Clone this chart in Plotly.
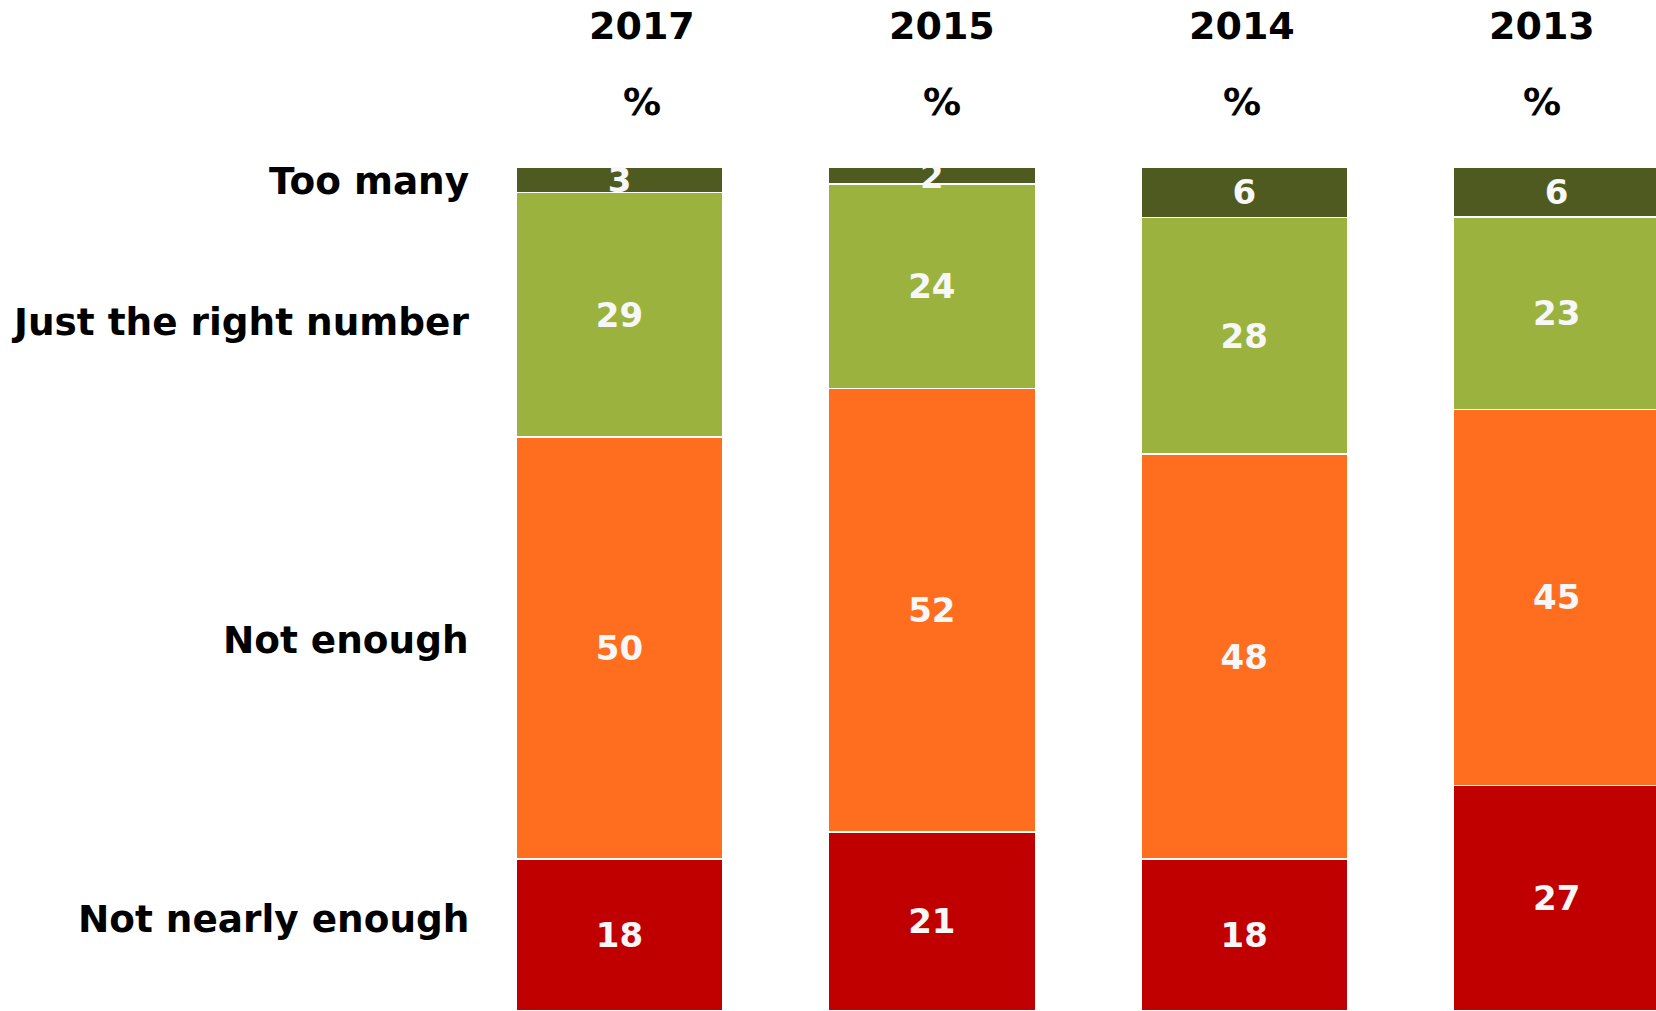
import plotly.graph_objects as go

years = ["2017", "2015", "2014", "2013"]
series_names = ["Not nearly enough", "Not enough", "Just the right number", "Too many"]
not_nearly_enough = [18, 21, 18, 27]
not_enough = [50, 52, 48, 45]
just_right = [29, 24, 28, 23]
too_many = [3, 2, 6, 6]
colors = ["#C00000", "#FF6E1E", "#9BB33E", "#4E5A1F"]

W, H = 1656, 1011
top_m = 167
FONT = "DejaVu Sans"

fig = go.Figure()
for name, vals, col in zip(series_names, [not_nearly_enough, not_enough, just_right, too_many], colors):
    fig.add_trace(go.Bar(
        x=years, y=vals, name=name, width=0.662,
        marker=dict(color=col, line=dict(color="white", width=1.5)),
        text=[str(v) for v in vals], texttemplate="<b>%{text}</b>",
        textposition="inside", insidetextanchor="middle", textangle=0,
        textfont=dict(family=FONT, size=34, color="#F7F7F7", weight="bold"),
        hoverinfo="skip",
    ))

plot_h = H - top_m
def py(ypx):
    return (H - ypx) / plot_h

annotations = []
label_y_px = [919, 640, 322, 180.5]
for name, ypx in zip(series_names, label_y_px):
    annotations.append(dict(text="<b>%s</b>" % name, xref="paper", yref="paper",
                            x=471 / W, y=py(ypx), xanchor="right", yanchor="middle",
                            showarrow=False, font=dict(family=FONT, size=37.4, color="#000000")))
header_x_px = [642, 942, 1242, 1542]
for yr, xpx in zip(years, header_x_px):
    annotations.append(dict(text="<b>%s</b>" % yr, xref="paper", yref="paper",
                            x=xpx / W, y=py(26), xanchor="center", yanchor="middle",
                            showarrow=False, font=dict(family=FONT, size=38, color="#000000")))
    annotations.append(dict(text="<b>%</b>", xref="paper", yref="paper",
                            x=xpx / W, y=py(102), xanchor="center", yanchor="middle",
                            showarrow=False, font=dict(family=FONT, size=38, color="#000000")))

fig.update_layout(
    width=W, height=H,
    barmode="stack", barnorm="percent",
    margin=dict(l=0, r=0, t=top_m, b=0, pad=0),
    paper_bgcolor="white", plot_bgcolor="white",
    showlegend=False,
    uniformtext=dict(minsize=34, mode="show"),
    xaxis=dict(type="category", range=[-1.983, 3.318], visible=False, fixedrange=True),
    yaxis=dict(range=[0, 100], visible=False, fixedrange=True),
    annotations=annotations,
)

fig.write_html(
    "out.html",
    config={"displayModeBar": False},
    post_script="document.body.style.margin='0';document.body.style.overflow='hidden';",
)
